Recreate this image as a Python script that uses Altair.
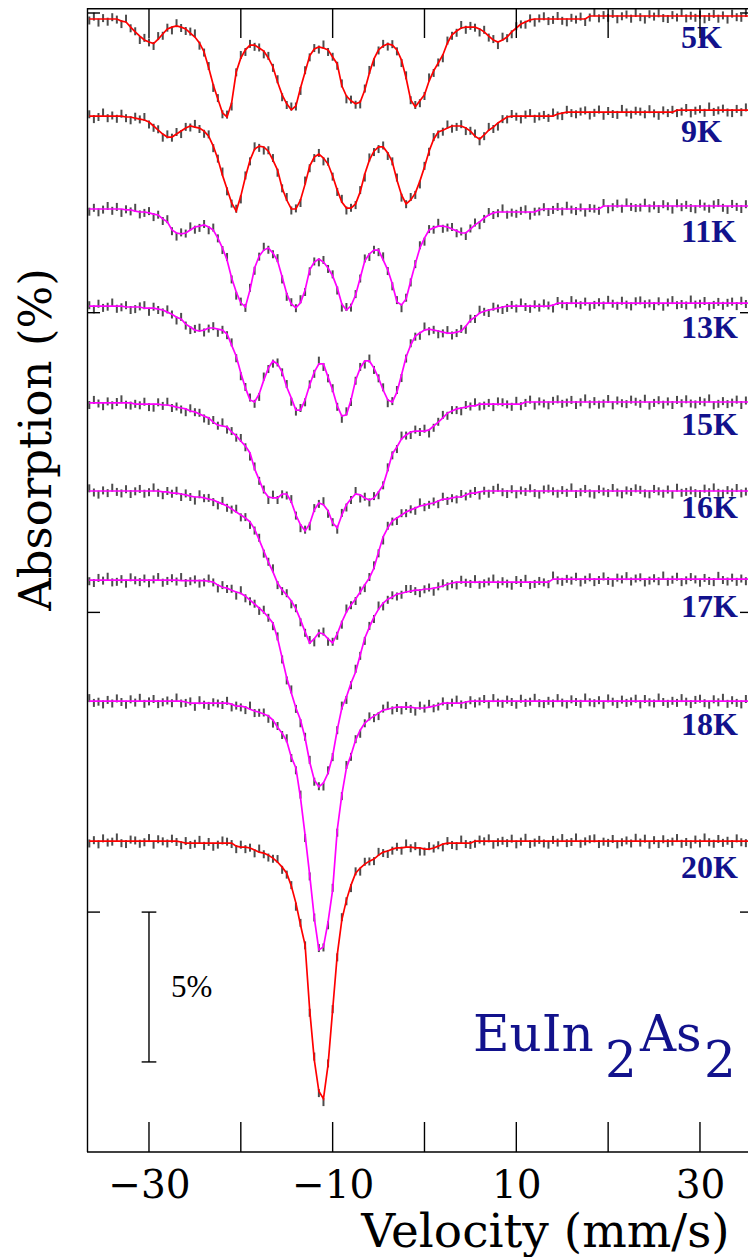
import altair as alt
import pandas as pd

# ---------------- data ----------------
# velocity channel grid, -36.5 ... 36.0 mm/s in 0.5 mm/s steps
VELOCITY = [i / 2 for i in range(-73, 73)]

TEMPS = ["5K", "9K", "11K", "13K", "15K", "16K", "17K", "18K", "20K"]
# vertical offset of each spectrum's baseline (%)
BASELINES = [-0.10, -3.24, -6.44, -9.68, -12.98, -15.95, -18.89, -22.96, -27.63]
COLORS = ["#ff0000", "#ff0000", "#ff00ff", "#ff00ff", "#ff00ff",
          "#ff00ff", "#ff00ff", "#ff00ff", "#ff0000"]

# fitted absorption depth below the baseline (%), on the VELOCITY grid
FIT_5K = [0.10] * 7 + [
    .17, .20, .37, .53, .67, .80, .87, .92, .77, .60,
    .43, .37, .33, .37, .43, .57, .70, .90, 1.20, 1.73,
    2.30, 2.77, 3.23, 3.37, 2.90, 1.87, 1.40, 1.13, .97, .97,
    1.07, 1.17, 1.40, 1.70, 2.20, 2.63, 2.93, 3.13, 3.00, 2.40,
    1.87, 1.33, 1.10, 1.03, 1.07, 1.13, 1.37, 1.60, 2.33, 2.67,
    2.83, 2.93, 2.87, 2.47, 1.90, 1.43, 1.13, 1.00, .93, .97,
    1.13, 1.47, 2.07, 2.80, 3.03, 2.83, 2.63, 2.17, 1.83, 1.57,
    1.30, .90, .63, .50, .40, .37, .37, .37, .43, .53,
    .67, .80, .87, .80, .70, .53, .40, .27, .20, .13] + [0.10] * 12 + [0.0] * 37

FIT_9K = [0.20] * 8 + [
    .23, .23, .27, .30, .33, .40, .53, .67, .80, .90,
    .90, .80, .70, .60, .53, .57, .60, .70, .87, 1.20,
    1.63, 2.17, 2.63, 3.10, 3.37, 2.87, 2.23, 1.67, 1.30, 1.20,
    1.23, 1.37, 1.67, 2.00, 2.60, 3.00, 3.30, 3.30, 3.00, 2.47,
    1.87, 1.57, 1.47, 1.60, 1.80, 2.20, 2.67, 3.07, 3.27, 3.27,
    3.13, 2.73, 2.13, 1.67, 1.37, 1.23, 1.23, 1.43, 1.73, 2.33,
    2.83, 3.13, 3.00, 2.77, 2.37, 1.90, 1.37, .97, .73, .67,
    .60, .53, .53, .53, .60, .70, .87, .97, .83, .67,
    .57, .43, .33, .23] + [0.20] * 10 + [0.13, 0.10] + [0.07] * 24 + [0.0] * 18

FIT_11K = [0.10] * 8 + [
    .13, .13, .17, .20, .20, .23, .27, .30, .43, .53,
    .80, .90, .93, .90, .80, .70, .67, .63, .70, .80,
    1.07, 1.40, 1.80, 2.40, 2.87, 3.23, 3.37, 2.80, 2.07, 1.67,
    1.47, 1.40, 1.57, 1.83, 2.37, 2.93, 3.27, 3.40, 3.23, 2.80,
    2.13, 1.87, 1.77, 1.87, 2.07, 2.33, 2.73, 3.27, 3.47, 3.33,
    2.97, 2.40, 1.83, 1.60, 1.47, 1.47, 1.80, 2.13, 2.60, 3.20,
    3.30, 3.10, 2.50, 1.93, 1.40, 1.07, .80, .73, .67, .67,
    .70, .77, .83, .90, .90, .77, .63, .53, .40, .30,
    .23] + [0.20] * 9 + [0.13] + [0.10] * 13 + [0.0] * 34

FIT_13K = [0.10] * 8 + [
    .13, .13, .13, .13, .17, .17, .17, .20, .23, .30,
    .37, .47, .53, .70, .80, .90, .93, .90, .83, .83,
    .87, .90, 1.03, 1.40, 1.77, 2.33, 2.83, 3.23, 3.30, 3.03,
    2.57, 2.17, 1.93, 2.03, 2.30, 2.80, 3.17, 3.57, 3.57, 3.23,
    2.73, 2.30, 2.03, 2.03, 2.47, 2.90, 3.43, 3.77, 3.73, 3.23,
    2.57, 2.17, 1.93, 1.93, 2.17, 2.50, 2.90, 3.23, 3.30, 2.97,
    2.40, 1.80, 1.40, 1.10, 1.00, .90, .87, .90, .93, .97,
    1.00, 1.00, .97, .93, .77, .57, .47, .33, .27, .23,
    .20, .17, .13] + [0.10] * 10 + [0.07] + [0.0] * 44

FIT_15K = [0.03] * 10 + [0.07] * 6 + [
    .10, .10, .13, .17, .20, .23, .30, .33, .40, .47,
    .53, .67, .77, .80, .83, 1.00, 1.13, 1.30, 1.47, 1.70,
    2.23, 2.60, 2.97, 3.17, 3.20, 3.20, 3.07, 3.07, 3.33, 3.77,
    4.10, 4.30, 4.07, 3.60, 3.37, 3.43, 3.63, 4.03, 4.20, 3.77,
    3.43, 3.23, 3.07, 3.10, 3.20, 3.27, 3.20, 3.00, 2.77, 2.27,
    1.73, 1.50, 1.23, 1.10, 1.00, .97, .97, .97, .93, .80,
    .67, .53, .37, .30, .23, .20, .17, .13, .13] + [0.07] * 10 + [0.0] * 51

FIT_16K = [0.0] * 16 + [
    .03, .03, .07, .07, .10, .13, .17, .20, .20, .23,
    .27, .30, .37, .43, .50, .60, .70, .80, .90, 1.03,
    1.27, 1.63, 2.00, 2.37, 2.70, 3.07, 3.30, 3.47, 3.67, 3.93,
    4.30, 4.70, 5.07, 4.93, 4.73, 4.77, 4.93, 5.07, 4.77, 4.37,
    4.03, 3.80, 3.60, 3.37, 3.13, 2.90, 2.57, 2.03, 1.53, 1.23,
    1.00, .90, .80, .70, .63, .57, .50, .47, .43, .40,
    .33, .27, .27, .23, .20, .20, .13, .07, .07, .03] + [0.0] * 60

FIT_17K = [0.03] * 20 + [0.05] * 6 + [
    .07, .10, .20, .27, .30, .37, .43, .47, .57, .70,
    .83, .97, 1.10, 1.27, 1.47, 1.97, 2.63, 3.30, 3.80, 4.30,
    4.70, 5.30, 6.10, 6.70, 6.93, 6.80, 6.47, 5.90, 5.03, 4.30,
    3.93, 3.47, 3.10, 2.53, 1.97, 1.60, 1.27, 1.00, .80, .67,
    .60, .50, .47, .43, .40, .37, .37, .33, .33, .30,
    .27, .23, .17, .13] + [0.10] * 21 + [0.0] * 45

FIT_18K = [0.0] * 21 + [0.03] + [0.07] * 9 + [
    .10, .17, .17, .20, .27, .33, .37, .43, .50, .63,
    .87, 1.07, 1.33, 1.87, 2.23, 3.23, 4.47, 5.80, 7.23, 8.30,
    8.20, 7.37, 6.30, 4.30, 3.13, 2.23, 1.80, 1.30, .97, .73,
    .60, .50, .40, .30, .27, .23, .20, .20, .20, .20,
    .23, .23, .23, .20, .17, .13] + [0.07] * 5 + [0.03] + [0.0] * 63

FIT_20K = [0.0] * 20 + [0.03] + [0.07] * 11 + [
    .17, .20, .20, .23, .30, .37, .40, .47, .57, .70,
    .87, 1.07, 1.50, 2.07, 2.80, 3.47, 5.63, 7.30, 8.35, 8.60,
    7.47, 5.63, 3.80, 2.63, 1.97, 1.47, 1.07, .90, .77, .67,
    .60, .47, .37, .33, .27, .23, .23, .20, .20, .23,
    .23, .27, .27, .23, .17, .10] + [0.07] * 6 + [0.0] * 62

# scatter of the measured points about the fit (%), on the VELOCITY grid
RES_5K = [
    .05, -.08, .12, -.03, .09, -.06, .02, .10, -.11, .04,
    -.02, .13, -.07, .01, .08, -.10, .06, -.04, .11, -.09,
    .03, .07, -.05, -.12, .09, .02, -.06, .10, -.03, .05,
    -.08, .12, .01, -.10, .07, -.04, .06, -.02, .11, -.07,
    .03, -.09, .08, .04, -.11, .02, .10, -.06, .05, -.03,
    .09, -.12, .07, -.01, .06, -.08, .11, -.04, .03, .08,
    -.05, -.10, .12, .02, -.07, .09, -.03, .05, .10, -.09,
    .01, -.06, .08, .04, -.12, .07, -.02, .11, -.08, .03,
    .06, -.10, .09, -.04, .02, .12, -.07, .05, -.03, .10,
    -.11, .04, .08, -.06, .01, .09, -.05, .12, -.02, -.09,
    .07, .03, -.10, .06, .11, -.04, .02, -.08, .10, .05,
    -.12, .08, -.03, .06, -.07, .11, .01, -.05, .09, -.10,
    .04, .12, -.06, .02, -.09, .07, .10, -.03, .05, -.11,
    .08, -.01, .06, -.04, .11, .03, -.07, .09, -.02, .12,
    -.08, .04, .06, -.10, .02, .08]
RES_9K = [
    -.06, .10, .03, -.12, .07, -.02, .09, -.08, .04, .11,
    -.05, .01, -.10, .08, .06, -.03, .12, -.09, .02, -.07,
    .10, -.04, .05, -.11, .03, .09, -.06, .07, -.01, -.12,
    .08, .02, -.08, .11, -.05, .04, -.09, .06, .12, -.03,
    -.07, .09, .01, -.10, .05, -.02, .10, -.12, .07, .03,
    -.04, .11, -.08, .02, .06, -.11, .08, -.01, .04, -.06,
    .12, -.09, .03, .07, -.05, .10, -.02, -.08, .09, .01,
    -.10, .06, .11, -.04, .02, -.07, .08, .05, -.12, .09,
    .03, -.06, .10, -.01, -.09, .07, .04, -.11, .06, .12,
    -.03, .08, -.07, .02, .11, -.05, -.10, .09, .01, -.04,
    .06, -.12, .05, .10, -.08, .03, .07, -.02, -.06, .11,
    .02, -.09, .12, -.04, .06, .09, -.11, .01, .08, -.05,
    -.02, .07, -.10, .04, .12, -.06, .03, -.08, .10, .05,
    -.07, .11, .02, -.03, .09, -.12, .06, .01, -.05, .08,
    .10, -.04, .07, -.09, .03, .12]
RES_11K = [
    .09, -.04, .11, .02, -.10, .06, -.07, .13, -.02, .05,
    -.11, .08, .03, -.06, .10, -.01, .07, -.09, .04, .12,
    -.05, .02, -.12, .09, .06, -.03, .11, -.08, .01, .07,
    -.10, .05, .12, -.04, .03, -.07, .09, .02, -.11, .06,
    .04, -.09, .08, .10, -.06, .01, -.12, .07, .05, -.02,
    .11, -.07, .03, -.05, .09, .12, -.10, .06, -.03, .02,
    -.08, .10, -.01, .07, -.12, .04, .08, -.06, .11, -.04,
    .05, .01, -.09, .12, -.03, .06, -.11, .09, .02, -.07,
    .08, -.05, .10, -.02, -.08, .11, .03, -.10, .07, .04,
    -.12, .09, .02, .06, -.04, -.09, .12, -.01, .05, -.06,
    .10, .03, -.07, .08, -.11, .02, .07, -.05, .12, -.03,
    -.01, .06, -.10, .11, .04, -.08, .09, -.12, .03, .07,
    .05, -.11, .08, -.02, .10, -.06, .01, .12, -.09, .04,
    -.04, .07, .11, -.08, .02, .09, -.05, -.10, .06, .13,
    -.07, .03, .10, -.06, .08, -.02]
RES_13K = [
    -.03, .11, -.08, .06, .02, -.12, .09, .04, -.06, .10,
    .07, -.02, -.10, .12, -.05, .03, .08, -.09, .01, .11,
    -.07, .05, .10, -.04, -.11, .08, .02, -.06, .12, -.01,
    .04, -.09, .07, .11, -.03, -.08, .06, .10, -.12, .03,
    .09, -.05, .01, -.10, .12, .05, -.07, .08, -.02, .06,
    -.11, .10, .04, -.06, .03, .09, -.12, .07, .02, -.04,
    .12, -.08, .06, .01, -.09, .11, -.03, -.07, .10, .05,
    -.06, .02, .09, -.12, .07, -.01, .11, .04, -.10, .08,
    .03, -.07, .12, -.05, .06, -.11, .02, .10, -.08, .01,
    .10, .06, -.04, .08, -.12, .03, .09, -.06, .05, -.09,
    -.02, .11, -.07, .04, .10, -.10, .01, .07, -.05, .12,
    .06, -.03, .08, -.11, .02, .09, -.08, .05, .11, -.06,
    -.09, .04, .01, .10, -.06, .12, -.02, -.10, .07, .03,
    .08, -.12, .05, .02, -.07, .11, .06, -.04, .09, -.01,
    -.05, .10, -.08, .03, .12, -.06]
RES_15K = [
    .07, -.10, .02, .11, -.05, .08, -.03, -.12, .06, .09,
    -.01, .04, -.08, .10, .12, -.06, .03, -.11, .07, -.02,
    .05, .11, -.09, .01, -.04, .08, .10, -.07, .02, -.12,
    .09, -.03, .06, -.10, .04, .12, -.08, .03, -.05, .10,
    -.11, .07, .01, .05, -.09, .02, .11, -.04, .08, -.06,
    .03, -.12, .10, -.02, .06, -.07, .09, .04, -.10, .12,
    -.04, .08, -.06, .11, .01, -.09, .05, .07, -.11, .02,
    .10, -.05, .03, -.08, .12, .06, -.01, -.10, .09, -.03,
    .04, .11, -.07, .02, -.12, .08, .05, -.04, .10, -.09,
    -.06, .01, .09, -.11, .07, .03, -.08, .12, -.02, .05,
    .11, -.04, -.09, .06, .02, -.07, .10, .01, -.12, .08,
    -.03, .09, .05, -.10, .11, -.05, .04, .07, -.08, -.01,
    .06, -.11, .12, .03, -.06, .09, -.02, .10, -.07, .04,
    -.09, .05, .08, -.04, .01, -.12, .11, .06, -.03, .07,
    .02, -.08, .10, -.05, .09, .03]
RES_16K = [
    -.09, .05, .12, -.02, .07, -.11, .03, .08, -.06, .10,
    .01, -.07, .09, .04, -.12, .06, .11, -.03, .02, -.08,
    .10, -.05, .03, .12, -.09, .01, -.04, .07, .11, -.10,
    .06, .02, -.11, .08, -.03, .10, .05, -.07, .09, -.01,
    -.12, .07, .04, -.06, .11, -.02, .08, .03, -.10, .12,
    .02, -.08, .10, -.04, .06, .09, -.11, .01, .07, -.05,
    .11, -.03, -.09, .05, .12, -.07, .02, .10, -.06, .04,
    -.02, .09, -.12, .07, .03, -.05, .11, -.08, .06, .01,
    .08, -.10, .05, .02, -.07, .12, -.01, .09, -.04, -.11,
    .04, .10, -.06, .11, -.02, .03, -.09, .07, .12, -.05,
    -.08, .01, .09, -.03, .06, -.12, .10, .04, -.07, .08,
    .12, -.06, .02, .07, -.10, .05, .11, -.02, .03, -.09,
    -.04, .08, .11, -.07, .01, .09, -.05, .12, -.11, .06,
    .03, -.02, .07, .10, -.08, .04, -.12, .06, .09, -.03,
    .05, -.10, .08, .02, -.06, .11]
RES_17K = [
    .04, .10, -.07, .02, -.11, .08, .06, -.03, .12, -.09,
    .01, .07, -.05, .11, -.02, -.10, .09, .03, -.06, .05,
    -.12, .08, .02, -.04, .10, .06, -.09, .01, .11, -.07,
    .03, -.05, .12, -.10, .07, .04, -.01, .09, -.08, .02,
    .10, -.06, .05, .08, -.12, .03, .11, -.04, -.07, .06,
    -.02, .12, -.09, .04, .01, -.08, .10, .07, -.11, .03,
    .09, -.04, .06, -.12, .11, .02, -.06, .08, .05, -.10,
    -.07, .03, .10, .01, -.05, .12, -.03, -.09, .07, .04,
    .11, -.08, .02, .06, -.10, .09, .04, -.02, -.12, .08,
    -.03, .05, .12, -.07, .03, -.11, .10, .06, -.04, .01,
    .07, -.12, .04, .09, -.01, .05, -.08, .11, .02, -.06,
    .10, .03, -.09, .06, .12, -.05, .01, -.10, .08, -.02,
    -.06, .11, .05, -.03, .07, -.12, .09, .02, -.08, .10,
    .04, -.07, .01, .12, -.04, .06, .10, -.11, .03, .08,
    -.05, .09, -.02, .07, -.10, .05]
RES_18K = [
    -.10, .06, .02, .11, -.04, .08, -.09, .03, .12, -.06,
    .05, -.11, .09, .01, -.07, .10, .04, -.02, .07, -.12,
    .08, .03, -.06, .12, -.10, .05, .09, -.03, .01, .06,
    -.08, .11, -.02, .04, .10, -.12, .07, .02, -.05, .09,
    .12, -.04, .06, -.09, .03, .08, -.11, .10, .05, -.01,
    -.06, .02, .11, -.07, .09, .04, -.10, .06, -.03, .12,
    .01, -.09, .07, .10, -.05, -.12, .08, .03, .11, -.04,
    .06, .12, -.08, .02, -.11, .07, .05, -.06, .09, -.02,
    -.12, .04, .10, -.03, .08, .01, -.07, .11, -.10, .05,
    .09, -.05, .03, .12, -.08, .06, .02, -.11, .07, .10,
    -.01, .08, -.10, .05, .11, -.06, .03, .09, -.12, .04,
    .07, -.03, .12, -.09, .02, .10, -.05, .06, .01, -.08,
    .11, -.07, .04, .08, -.12, .03, .09, -.01, .06, -.10,
    .02, .10, -.04, -.08, .07, .12, -.06, .04, -.11, .09,
    -.03, .06, .11, -.07, .02, .08]
RES_20K = [
    .08, -.03, .11, -.09, .05, .02, -.12, .07, .10, -.05,
    -.02, .09, .04, -.10, .12, -.06, .01, .08, -.08, .03,
    .11, -.07, .06, .02, -.11, .09, -.04, .12, .05, -.09,
    -.05, .03, .10, -.08, .07, -.01, .11, -.12, .04, .08,
    .02, -.10, .09, .05, -.03, .12, -.07, .01, .10, -.11,
    .06, .11, -.05, -.02, .08, -.09, .04, .10, -.06, .12,
    -.08, .01, .07, -.11, .03, .10, .05, -.04, .09, -.12,
    .04, -.06, .12, .08, -.10, .02, -.03, .11, -.07, .06,
    .10, -.12, .03, .06, .09, -.05, .01, -.09, .12, .04,
    -.01, .07, -.08, .11, .02, -.11, .10, .05, -.04, .08,
    .12, -.04, .05, -.10, .07, .03, -.12, .09, .01, -.06,
    -.09, .10, .02, .06, -.07, .11, .04, -.02, .08, -.11,
    .05, -.08, .12, -.03, .10, -.06, .07, .02, -.10, .09,
    .03, .11, -.05, .08, -.12, .04, .09, -.07, .06, -.01,
    .10, -.09, .04, .07, -.02, .05]

FITS = [FIT_5K, FIT_9K, FIT_11K, FIT_13K, FIT_15K, FIT_16K, FIT_17K, FIT_18K, FIT_20K]
RESIDUALS = [RES_5K, RES_9K, RES_11K, RES_13K, RES_15K, RES_16K, RES_17K, RES_18K, RES_20K]

X_TICKS = [-30, -20, -10, 0, 10, 20, 30]
X_LABELS = [-30, -10, 10, 30]
Y_TICKS = [0, -10, -20, -30]
SCALE_BAR = 5  # %

# ---------------- layout / style ----------------
W, H = 661, 1144
X_DOMAIN = [-36.75, 35.23]
Y_DOMAIN = [-38.005, 0.167]
NAVY = "#12128c"
SERIF = "Liberation Serif"
DSERIF = "DejaVu Serif"

rows = []
for name, base, fit, res in zip(TEMPS, BASELINES, FITS, RESIDUALS):
    for v, f, r in zip(VELOCITY, fit, res):
        rows.append({"T": name, "v": v, "fit": base - f, "obs": base - f - r})
spec = pd.DataFrame(rows)

xs = alt.Scale(domain=X_DOMAIN, nice=False, zero=False)
ys = alt.Scale(domain=Y_DOMAIN, nice=False, zero=False)

x_axis = alt.Axis(values=X_LABELS, format="d", ticks=False, tickSize=0, domain=False, grid=False,
                  labelFont=DSERIF, labelFontSize=39, labelColor="black", labelPadding=45,
                  labelBaseline="alphabetic", labelFlush=False,
                  title="Velocity (mm/s)", titleFont=DSERIF, titleFontSize=47, titleFontWeight="normal",
                  titleColor="black", titleX=458, titleY=94, titleAlign="center",
                  titleBaseline="alphabetic")
y_axis = alt.Axis(labels=False, ticks=False, tickSize=0, domain=False, grid=False,
                  title="Absorption (%)", titleFont=DSERIF, titleFontSize=45, titleFontWeight="normal",
                  titleColor="black", titleAngle=270, titleX=-37, titleY=431,
                  titleAlign="center", titleBaseline="alphabetic")


def X(field):
    return alt.X(field, scale=xs)


def Y(field):
    return alt.Y(field, scale=ys)


points = alt.Chart(spec).mark_tick(orient="vertical", size=8, thickness=2, color="black",
                                   clip=True).encode(
    x=alt.X("v:Q", scale=xs, axis=x_axis),
    y=alt.Y("obs:Q", scale=ys, axis=y_axis),
)

fits = alt.Chart(spec).mark_line(strokeWidth=1.7, clip=True).encode(
    x=X("v:Q"), y=Y("fit:Q"),
    color=alt.Color("T:N", scale=alt.Scale(domain=TEMPS, range=COLORS), legend=None),
)

LABEL_X = 27.93
LABEL_Y = [-1.168, -4.304, -7.641, -10.844, -14.081, -16.850, -20.154, -24.091, -28.862]
labels_df = pd.DataFrame({"t": TEMPS, "x": [LABEL_X] * len(TEMPS), "y": LABEL_Y})
labels = alt.Chart(labels_df).mark_text(
    align="left", baseline="alphabetic", font=SERIF, fontWeight="bold", fontSize=32, color=NAVY
).encode(x=X("x:Q"), y=Y("y:Q"), text="t:N")

formula_df = pd.DataFrame({"t": ["EuIn", "2", "As", "2"],
                           "x": [5.28, 19.66, 23.47, 30.45],
                           "y": [-34.63, -35.50, -34.63, -35.50]})
formula = alt.Chart(formula_df).mark_text(
    align="left", baseline="alphabetic", font=DSERIF, fontSize=50, color=NAVY
).encode(x=X("x:Q"), y=Y("y:Q"), text="t:N")

# 5 % scale bar
bar_df = pd.DataFrame({"x": [-30.0], "y": [-30.0], "y2": [-30.0 - SCALE_BAR]})
bar = alt.Chart(bar_df).mark_rule(color="black", strokeWidth=1.4).encode(
    x=X("x:Q"), y=Y("y:Q"), y2="y2:Q")
caps_df = pd.DataFrame({"x": [-30.8, -30.8], "x2": [-29.2, -29.2], "y": [-30.0, -30.0 - SCALE_BAR]})
caps = alt.Chart(caps_df).mark_rule(color="black", strokeWidth=1.4).encode(
    x=X("x:Q"), x2="x2:Q", y=Y("y:Q"))
bar_text = alt.Chart(pd.DataFrame({"t": ["5%"], "x": [-27.6], "y": [-32.83]})).mark_text(
    align="left", baseline="alphabetic", font=SERIF, fontSize=31, color="black"
).encode(x=X("x:Q"), y=Y("y:Q"), text="t:N")

# frame (left, top, bottom) and inward ticks
one = pd.DataFrame({"a": [0]})
frame_left = alt.Chart(one).mark_rule(color="black", strokeWidth=1.4).encode(
    x=alt.value(0.5), y=alt.value(0), y2=alt.value(H))
frame_top = alt.Chart(one).mark_rule(color="black", strokeWidth=1.4).encode(
    x=alt.value(0), x2=alt.value(W), y=alt.value(0.7))
frame_bottom = alt.Chart(one).mark_rule(color="black", strokeWidth=1.4).encode(
    x=alt.value(0), x2=alt.value(W), y=alt.value(H))

xt = pd.DataFrame({"v": X_TICKS})
top_ticks = alt.Chart(xt).mark_rule(color="black", strokeWidth=1.4).encode(
    x=X("v:Q"), y=alt.value(0), y2=alt.value(30))
bottom_ticks = alt.Chart(xt).mark_rule(color="black", strokeWidth=1.4).encode(
    x=X("v:Q"), y=alt.value(H - 30), y2=alt.value(H))
yt = pd.DataFrame({"y": Y_TICKS})
left_ticks = alt.Chart(yt).mark_rule(color="black", strokeWidth=1.4).encode(
    y=Y("y:Q"), x=alt.value(0), x2=alt.value(13))
right_ticks = alt.Chart(yt).mark_rule(color="black", strokeWidth=1.4).encode(
    y=Y("y:Q"), x=alt.value(W - 8), x2=alt.value(W))

chart = alt.layer(
    points, fits, labels, formula, bar, caps, bar_text,
    frame_left, frame_top, frame_bottom, top_ticks, bottom_ticks, left_ticks, right_ticks,
).properties(
    width=W, height=H,
    padding={"left": 79, "top": 0, "right": 0, "bottom": 105},
    autosize=alt.AutoSizeParams(type="none"),
).configure_view(
    strokeWidth=0
).configure_axis(
    labelFont=DSERIF, titleFont=DSERIF, titleFontWeight="normal", titleColor="black",
    labelColor="black",
)

chart.save("out.html", embed_options={"renderer": "svg", "actions": False})
